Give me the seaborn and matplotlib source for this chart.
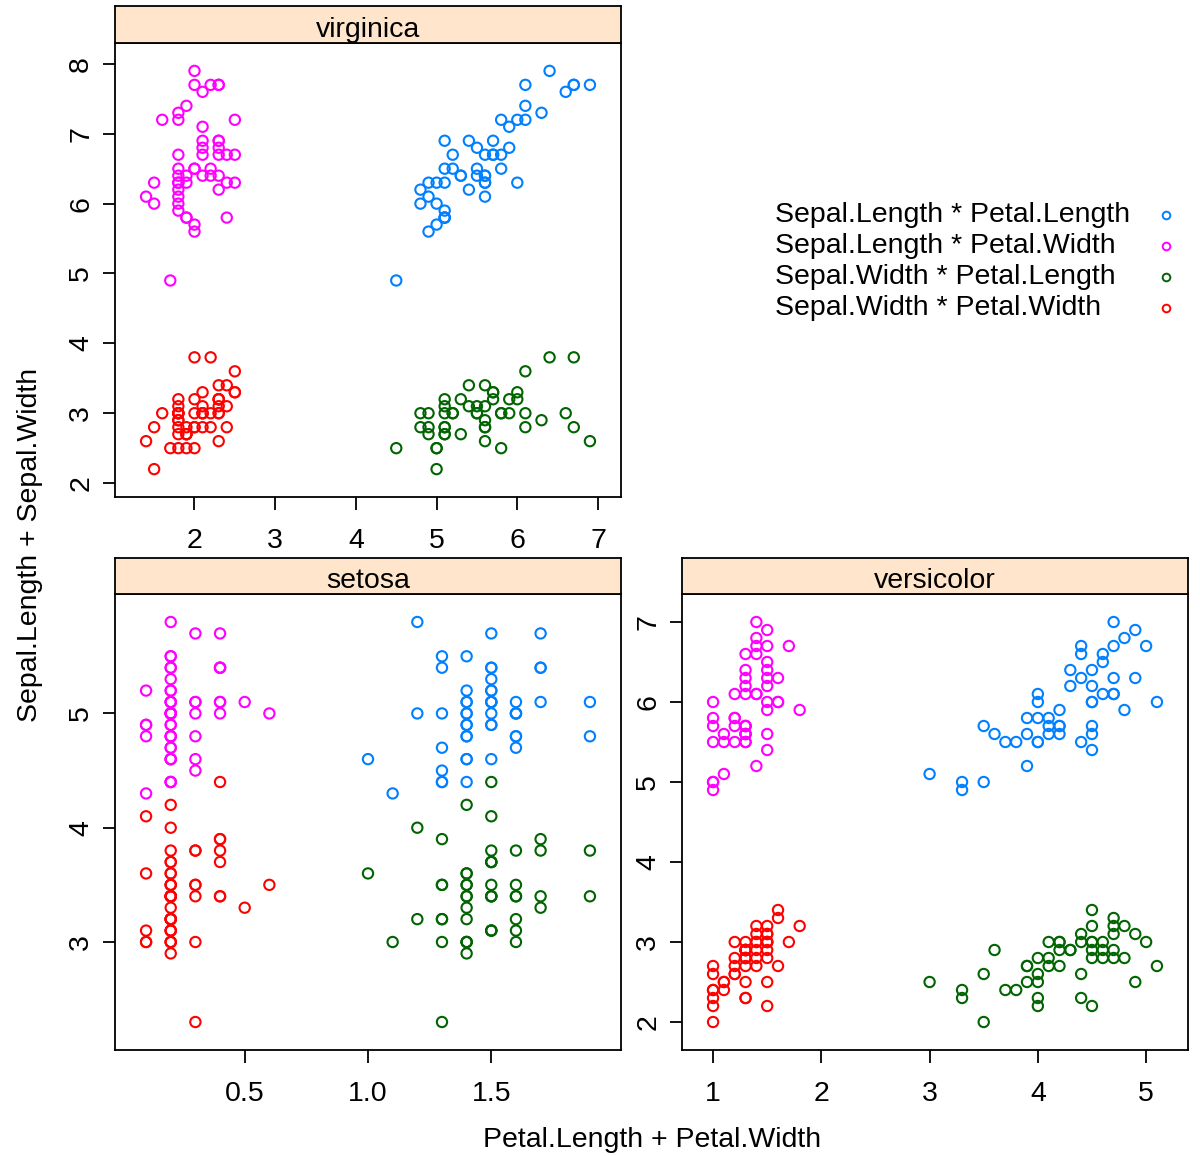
import numpy as np
import pandas as pd
import seaborn as sns
import matplotlib
matplotlib.use("Agg")
import matplotlib.pyplot as plt
from matplotlib.lines import Line2D

sns.set_theme(style="white")
plt.rcParams["font.family"] = ["Liberation Sans", "DejaVu Sans"]

# Edgar Anderson's iris measurements (R's datasets::iris)
species = ["setosa"] * 50 + ["versicolor"] * 50 + ["virginica"] * 50
sepal_length = [
    5.1, 4.9, 4.7, 4.6, 5.0, 5.4, 4.6, 5.0, 4.4, 4.9, 5.4, 4.8, 4.8, 4.3, 5.8, 5.7, 5.4, 5.1, 5.7, 5.1,
    5.4, 5.1, 4.6, 5.1, 4.8, 5.0, 5.0, 5.2, 5.2, 4.7, 4.8, 5.4, 5.2, 5.5, 4.9, 5.0, 5.5, 4.9, 4.4, 5.1,
    5.0, 4.5, 4.4, 5.0, 5.1, 4.8, 5.1, 4.6, 5.3, 5.0,
    7.0, 6.4, 6.9, 5.5, 6.5, 5.7, 6.3, 4.9, 6.6, 5.2, 5.0, 5.9, 6.0, 6.1, 5.6, 6.7, 5.6, 5.8, 6.2, 5.6,
    5.9, 6.1, 6.3, 6.1, 6.4, 6.6, 6.8, 6.7, 6.0, 5.7, 5.5, 5.5, 5.8, 6.0, 5.4, 6.0, 6.7, 6.3, 5.6, 5.5,
    5.5, 6.1, 5.8, 5.0, 5.6, 5.7, 5.7, 6.2, 5.1, 5.7,
    6.3, 5.8, 7.1, 6.3, 6.5, 7.6, 4.9, 7.3, 6.7, 7.2, 6.5, 6.4, 6.8, 5.7, 5.8, 6.4, 6.5, 7.7, 7.7, 6.0,
    6.9, 5.6, 7.7, 6.3, 6.7, 7.2, 6.2, 6.1, 6.4, 7.2, 7.4, 7.9, 6.4, 6.3, 6.1, 7.7, 6.3, 6.4, 6.0, 6.9,
    6.7, 6.9, 5.8, 6.8, 6.7, 6.7, 6.3, 6.5, 6.2, 5.9,
]
sepal_width = [
    3.5, 3.0, 3.2, 3.1, 3.6, 3.9, 3.4, 3.4, 2.9, 3.1, 3.7, 3.4, 3.0, 3.0, 4.0, 4.4, 3.9, 3.5, 3.8, 3.8,
    3.4, 3.7, 3.6, 3.3, 3.4, 3.0, 3.4, 3.5, 3.4, 3.2, 3.1, 3.4, 4.1, 4.2, 3.1, 3.2, 3.5, 3.6, 3.0, 3.4,
    3.5, 2.3, 3.2, 3.5, 3.8, 3.0, 3.8, 3.2, 3.7, 3.3,
    3.2, 3.2, 3.1, 2.3, 2.8, 2.8, 3.3, 2.4, 2.9, 2.7, 2.0, 3.0, 2.2, 2.9, 2.9, 3.1, 3.0, 2.7, 2.2, 2.5,
    3.2, 2.8, 2.5, 2.8, 2.9, 3.0, 2.8, 3.0, 2.9, 2.6, 2.4, 2.4, 2.7, 2.7, 3.0, 3.4, 3.1, 2.3, 3.0, 2.5,
    2.6, 3.0, 2.6, 2.3, 2.7, 3.0, 2.9, 2.9, 2.5, 2.8,
    3.3, 2.7, 3.0, 2.9, 3.0, 3.0, 2.5, 2.9, 2.5, 3.6, 3.2, 2.7, 3.0, 2.5, 2.8, 3.2, 3.0, 3.8, 2.6, 2.2,
    3.2, 2.8, 2.8, 2.7, 3.3, 3.2, 2.8, 3.0, 2.8, 3.0, 2.8, 3.8, 2.8, 2.8, 2.6, 3.0, 3.4, 3.1, 3.0, 3.1,
    3.1, 3.1, 2.7, 3.2, 3.3, 3.0, 2.5, 3.0, 3.4, 3.0,
]
petal_length = [
    1.4, 1.4, 1.3, 1.5, 1.4, 1.7, 1.4, 1.5, 1.4, 1.5, 1.5, 1.6, 1.4, 1.1, 1.2, 1.5, 1.3, 1.4, 1.7, 1.5,
    1.7, 1.5, 1.0, 1.7, 1.9, 1.6, 1.6, 1.5, 1.4, 1.6, 1.6, 1.5, 1.5, 1.4, 1.5, 1.2, 1.3, 1.4, 1.3, 1.5,
    1.3, 1.3, 1.3, 1.6, 1.9, 1.4, 1.6, 1.4, 1.5, 1.4,
    4.7, 4.5, 4.9, 4.0, 4.6, 4.5, 4.7, 3.3, 4.6, 3.9, 3.5, 4.2, 4.0, 4.7, 3.6, 4.4, 4.5, 4.1, 4.5, 3.9,
    4.8, 4.0, 4.9, 4.7, 4.3, 4.4, 4.8, 5.0, 4.5, 3.5, 3.8, 3.7, 3.9, 5.1, 4.5, 4.5, 4.7, 4.4, 4.1, 4.0,
    4.4, 4.6, 4.0, 3.3, 4.2, 4.2, 4.2, 4.3, 3.0, 4.1,
    6.0, 5.1, 5.9, 5.6, 5.8, 6.6, 4.5, 6.3, 5.8, 6.1, 5.1, 5.3, 5.5, 5.0, 5.1, 5.3, 5.5, 6.7, 6.9, 5.0,
    5.7, 4.9, 6.7, 4.9, 5.7, 6.0, 4.8, 4.9, 5.6, 5.8, 6.1, 6.4, 5.6, 5.1, 5.6, 6.1, 5.6, 5.5, 4.8, 5.4,
    5.6, 5.1, 5.1, 5.9, 5.7, 5.2, 5.0, 5.2, 5.4, 5.1,
]
petal_width = [
    0.2, 0.2, 0.2, 0.2, 0.2, 0.4, 0.3, 0.2, 0.2, 0.1, 0.2, 0.2, 0.1, 0.1, 0.2, 0.4, 0.4, 0.3, 0.3, 0.3,
    0.2, 0.4, 0.2, 0.5, 0.2, 0.2, 0.4, 0.2, 0.2, 0.2, 0.2, 0.4, 0.1, 0.2, 0.2, 0.2, 0.2, 0.1, 0.2, 0.2,
    0.3, 0.3, 0.2, 0.6, 0.4, 0.3, 0.2, 0.2, 0.2, 0.2,
    1.4, 1.5, 1.5, 1.3, 1.5, 1.3, 1.6, 1.0, 1.3, 1.4, 1.0, 1.5, 1.0, 1.4, 1.3, 1.4, 1.5, 1.0, 1.5, 1.1,
    1.8, 1.3, 1.5, 1.2, 1.3, 1.4, 1.4, 1.7, 1.5, 1.0, 1.1, 1.0, 1.2, 1.6, 1.5, 1.6, 1.5, 1.3, 1.3, 1.3,
    1.2, 1.4, 1.2, 1.0, 1.3, 1.2, 1.3, 1.3, 1.1, 1.3,
    2.5, 1.9, 2.1, 1.8, 2.2, 2.1, 1.7, 1.8, 1.8, 2.5, 2.0, 1.9, 2.1, 2.0, 2.4, 2.3, 1.8, 2.2, 2.3, 1.5,
    2.3, 2.0, 2.0, 1.8, 2.1, 1.8, 1.8, 1.8, 2.1, 1.6, 1.9, 2.0, 2.2, 1.5, 1.4, 2.3, 2.4, 1.8, 1.8, 2.1,
    2.4, 2.3, 1.9, 2.3, 2.5, 2.3, 1.9, 2.0, 2.3, 1.8,
]

iris = pd.DataFrame({
    "Sepal.Length": sepal_length, "Sepal.Width": sepal_width,
    "Petal.Length": petal_length, "Petal.Width": petal_width, "Species": species,
})

# y * x combinations, drawn in this order
combos = [
    ("Sepal.Length", "Petal.Length"),
    ("Sepal.Length", "Petal.Width"),
    ("Sepal.Width", "Petal.Length"),
    ("Sepal.Width", "Petal.Width"),
]
combo_labels = [f"{y} * {x}" for y, x in combos]
combo_colors = ["#0080ff", "#ff00ff", "#006400", "#ff0000"]

# long format: one row per (flower, combination)
frames = []
for (ycol, xcol), lab in zip(combos, combo_labels):
    frames.append(pd.DataFrame({
        "x": iris[xcol], "y": iris[ycol], "combo": lab, "Species": iris["Species"],
    }))
long = pd.concat(frames, ignore_index=True)

panel_ticks = {
    "virginica": ([2, 3, 4, 5, 6, 7], [2, 3, 4, 5, 6, 7, 8], None),
    "setosa": ([0.5, 1.0, 1.5], [3, 4, 5], ["0.5", "1.0", "1.5"]),
    "versicolor": ([1, 2, 3, 4, 5], [2, 3, 4, 5, 6, 7], None),
}

W, H = 1200, 1156
fig = plt.figure(figsize=(W / 100, H / 100), dpi=100)


def rect(x0, y0, x1, y1):
    return [x0 / W, 1 - y1 / H, (x1 - x0) / W, (y1 - y0) / H]


# panel boxes (left, top, right, bottom) and strip top, in pixels
panels = {
    "virginica": (115, 43, 621, 497, 6),
    "setosa": (115, 594, 621, 1050, 558),
    "versicolor": (682, 594, 1188, 1050, 558),
}

STRIP = "#ffe5cc"
LW = 1.3
FS = 20.5

for sp, (x0, y0, x1, y1, st) in panels.items():
    ax = fig.add_axes(rect(x0, y0, x1, y1))
    d = long[long["Species"] == sp]
    sns.scatterplot(data=d, x="x", y="y", hue="combo", hue_order=combo_labels,
                    palette=combo_colors, ax=ax, legend=False, marker="o", s=55,
                    linewidth=1.5)
    coll = ax.collections[-1]
    coll.set_edgecolors(coll.get_facecolors())
    coll.set_facecolors("none")

    xr = (d["x"].min(), d["x"].max())
    yr = (d["y"].min(), d["y"].max())
    px = 0.07 * (xr[1] - xr[0])
    py = 0.07 * (yr[1] - yr[0])
    ax.set_xlim(xr[0] - px, xr[1] + px)
    ax.set_ylim(yr[0] - py, yr[1] + py)

    xt, yt, xtl = panel_ticks[sp]
    ax.set_xticks(xt)
    if xtl:
        ax.set_xticklabels(xtl)
    ax.set_yticks(yt)
    ax.set_xlabel("")
    ax.set_ylabel("")
    ax.tick_params(axis="both", direction="out", length=9, width=LW, color="black",
                   labelsize=FS, labelcolor="black", bottom=True, left=True)
    ax.tick_params(axis="x", pad=13)
    ax.tick_params(axis="y", pad=6)
    for lbl in ax.get_yticklabels():
        lbl.set_rotation(90)
        lbl.set_va("center")
    for s in ax.spines.values():
        s.set_visible(True)
        s.set_color("black")
        s.set_linewidth(LW)
    ax.grid(False)

    # strip with the species name
    sax = fig.add_axes(rect(x0, st, x1, y0))
    sax.set_facecolor(STRIP)
    sax.set_xticks([])
    sax.set_yticks([])
    for s in sax.spines.values():
        s.set_visible(True)
        s.set_color("black")
        s.set_linewidth(LW)
    sax.text(0.5, 0.36, sp, transform=sax.transAxes, ha="center", va="center",
             fontsize=FS, color="black")

# key
key_y = [215, 246, 277, 308]
for lab, col, yy in zip(combo_labels, combo_colors, key_y):
    fig.text(775 / W, 1 - yy / H, lab, ha="left", va="center", fontsize=FS, color="black")
    fig.add_artist(Line2D([1166 / W], [1 - yy / H], marker="o", markersize=5.5,
                          markerfacecolor="none", markeredgecolor=col,
                          markeredgewidth=1.4, linestyle="none",
                          transform=fig.transFigure))

fig.text(652 / W, 1 - 1140 / H, "Petal.Length + Petal.Width", ha="center", va="center",
         fontsize=FS, color="black")
fig.text(30 / W, 1 - 545 / H, "Sepal.Length + Sepal.Width", ha="center", va="center",
         rotation=90, fontsize=FS, color="black")

fig.savefig("out.png", dpi=100, facecolor="white")
